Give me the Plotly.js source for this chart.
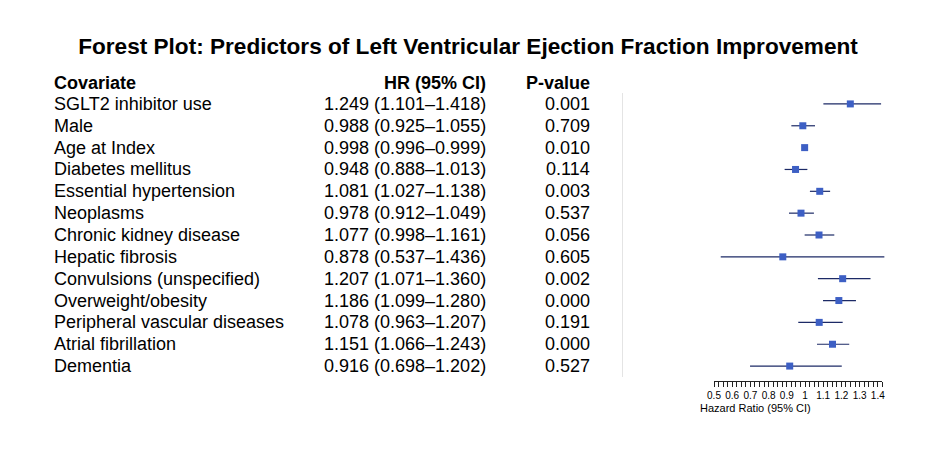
<!DOCTYPE html>
<html>
<head>
<meta charset="utf-8">
<script src="https://cdn.plot.ly/plotly-3.0.1.min.js"></script>
<style>html,body{margin:0;padding:0;background:#fff;}#chart{width:936px;height:456px;}</style>
</head>
<body>
<div id="chart"></div>
<script>
var covariates = ["SGLT2 inhibitor use","Male","Age at Index","Diabetes mellitus","Essential hypertension","Neoplasms","Chronic kidney disease","Hepatic fibrosis","Convulsions (unspecified)","Overweight/obesity","Peripheral vascular diseases","Atrial fibrillation","Dementia"];
var hr = [1.249,0.988,0.998,0.948,1.081,0.978,1.077,0.878,1.207,1.186,1.078,1.151,0.916];
var lo = [1.101,0.925,0.996,0.888,1.027,0.912,0.998,0.537,1.071,1.099,0.963,1.066,0.698];
var hi = [1.418,1.055,0.999,1.013,1.138,1.049,1.161,1.436,1.360,1.280,1.207,1.243,1.202];
var pvals = ["0.001","0.709","0.010","0.114","0.003","0.537","0.056","0.605","0.002","0.000","0.191","0.000","0.527"];
var tickVals = [0.5,0.6,0.7,0.8,0.9,1.0,1.1,1.2,1.3,1.4];
var tickText = ["0.5","0.6","0.7","0.8","0.9","1","1.1","1.2","1.3","1.4"];

var W = 936, H = 456;
function px(x){return x/W;}
function py(y){return (H-y)/H;}

var rows = covariates.map(function(_,i){return i;});
var trace = {
  type:'scatter', mode:'markers', x:hr, y:rows, xaxis:'x', yaxis:'y',
  marker:{symbol:'square', size:7, color:'#3d5fc4'},
  error_x:{type:'data', symmetric:false,
    array:hr.map(function(v,i){return hi[i]-v;}),
    arrayminus:hr.map(function(v,i){return v-lo[i];}),
    color:'#1c2a66', thickness:1.2, width:0},
  hoverinfo:'skip', showlegend:false
};
// empty trace so the tick axis (x2) is created
var axisTrace = {type:'scatter', mode:'markers', x:[], y:[], xaxis:'x2', yaxis:'y', showlegend:false, hoverinfo:'skip'};

var font = 'Liberation Sans, Arial, sans-serif';
var ann = [];
var fs = 18;
var hy = py(83);
ann.push({xref:'paper', yref:'paper', x:px(52), y:hy, xanchor:'left', yanchor:'middle', text:'<b>Covariate</b>', showarrow:false, font:{family:font,size:fs,color:'#000'}});
ann.push({xref:'paper', yref:'paper', x:px(488), y:hy, xanchor:'right', yanchor:'middle', text:'<b>HR (95% CI)</b>', showarrow:false, font:{family:font,size:fs,color:'#000'}});
ann.push({xref:'paper', yref:'paper', x:px(592), y:hy, xanchor:'right', yanchor:'middle', text:'<b>P-value</b>', showarrow:false, font:{family:font,size:fs,color:'#000'}});
covariates.forEach(function(c,i){
  ann.push({xref:'paper', yref:'y', x:px(52), y:i, xanchor:'left', yanchor:'middle', text:c, showarrow:false, font:{family:font,size:fs,color:'#000'}});
  ann.push({xref:'paper', yref:'y', x:px(488), y:i, xanchor:'right', yanchor:'middle', text:hr[i].toFixed(3)+' ('+lo[i].toFixed(3)+'\u2013'+hi[i].toFixed(3)+')', showarrow:false, font:{family:font,size:fs,color:'#000'}});
  ann.push({xref:'paper', yref:'y', x:px(592), y:i, xanchor:'right', yanchor:'middle', text:pvals[i], showarrow:false, font:{family:font,size:fs,color:'#000'}});
});
ann.push({xref:'paper', yref:'paper', x:px(698), y:py(408), xanchor:'left', yanchor:'middle', text:'Hazard Ratio (95% CI)', showarrow:false, font:{family:font,size:11,color:'#000'}});

var layout = {
  width:W, height:H, margin:{l:0,r:0,t:0,b:0},
  paper_bgcolor:'#fff', plot_bgcolor:'rgba(0,0,0,0)',
  title:{text:'<b>Forest Plot: Predictors of Left Ventricular Ejection Fraction Improvement</b>', x:0.5, xanchor:'center', y:py(46), yanchor:'middle', font:{family:font,size:22.6,color:'#000'}},
  xaxis:{domain:[px(623), px(623+1.45*182)], range:[0,1.45], showgrid:false, zeroline:false, showline:false, showticklabels:false, ticks:'', fixedrange:true},
  xaxis2:{domain:[px(623+0.5*182), px(623+1.425*182)], range:[0.5,1.425], anchor:'free', position:py(381), side:'bottom',
    showline:true, linecolor:'#222', linewidth:1, ticks:'outside', ticklen:5, tickcolor:'#222', tickwidth:1,
    tickmode:'array', tickvals:tickVals, ticktext:tickText, tickfont:{family:font,size:10,color:'#000'},
    minor:{dtick:0.025, tick0:0.5, ticks:'outside', ticklen:5, tickcolor:'#222', tickwidth:1, showgrid:false},
    showgrid:false, zeroline:false},
  yaxis:{domain:[py(377), py(93)], range:[12.5,-0.5], showgrid:false, zeroline:false, showticklabels:false, ticks:'',
    showline:true, linecolor:'#e4e4e4', linewidth:1.5},
  annotations:ann,
  font:{family:font}
};
Plotly.newPlot('chart',[trace, axisTrace],layout,{displayModeBar:false, staticPlot:true});
</script>
</body>
</html>
